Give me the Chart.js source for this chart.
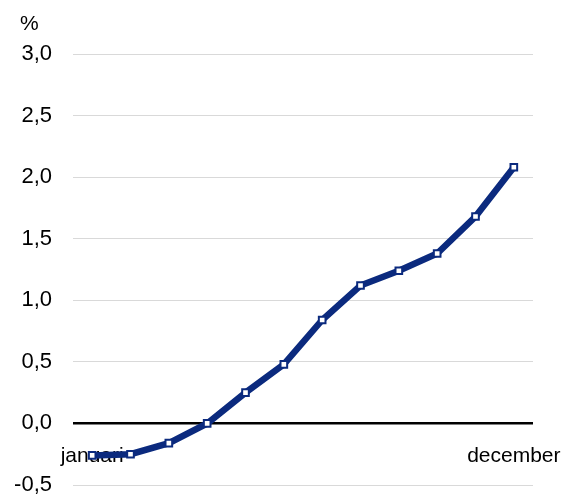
<!DOCTYPE html>
<html>
<head>
<meta charset="utf-8">
<script src="https://cdn.jsdelivr.net/npm/chart.js@4/dist/chart.umd.min.js"></script>
<style>
  html, body { margin: 0; padding: 0; background: #ffffff; }
  #wrap { width: 570px; height: 494px; position: relative; }
</style>
</head>
<body>
<div id="wrap"><canvas id="chart"></canvas></div>
<script>
// Monthly values, per cent
const months = ['januari', 'februari', 'maart', 'april', 'mei', 'juni',
                'juli', 'augustus', 'september', 'oktober', 'november', 'december'];
const values = [-0.26, -0.25, -0.16, 0.00, 0.25, 0.48, 0.84, 1.12, 1.24, 1.38, 1.68, 2.08];
const shownLabels = ['januari', 'december'];
const unitLabel = '%';

const navy = '#0b2a7e';
const fontFamily = '"Liberation Sans", Arial, sans-serif';

// Unit text above the value axis
const unitPlugin = {
  id: 'unitLabel',
  afterDraw(chart) {
    const ctx = chart.ctx;
    ctx.save();
    ctx.fillStyle = '#000';
    ctx.font = '21px ' + fontFamily;
    ctx.textAlign = 'left';
    ctx.textBaseline = 'alphabetic';
    ctx.fillText(unitLabel, 20, 30);
    ctx.restore();
  }
};

new Chart(document.getElementById('chart'), {
  type: 'line',
  data: {
    labels: months,
    datasets: [{
      data: values,
      borderColor: navy,
      borderWidth: 6.5,
      pointStyle: 'rect',
      pointRadius: 4.7,
      pointHoverRadius: 4.7,
      pointBackgroundColor: '#ffffff',
      pointBorderColor: navy,
      pointBorderWidth: 2,
      tension: 0,
      fill: false
    }]
  },
  options: {
    responsive: true,
    maintainAspectRatio: false,
    animation: false,
    layout: { padding: { top: 54, right: 37, bottom: 9, left: 0 } },
    plugins: {
      legend: { display: false },
      tooltip: { enabled: false },
      title: { display: false }
    },
    scales: {
      x: {
        type: 'category',
        offset: true,
        position: { y: 0 },
        z: 1,
        grid: { display: false, drawTicks: false },
        border: { display: false },
        afterFit(scale) {
          // the category labels sit on the zero line and take no room of their own
          scale.height = 0;
          scale.paddingLeft = 0;
          scale.paddingRight = 0;
          scale.paddingTop = 0;
          scale.paddingBottom = 0;
        },
        ticks: {
          autoSkip: false,
          maxRotation: 0,
          padding: 20,
          color: '#000',
          font: { family: fontFamily, size: 21 },
          callback(value, index) {
            const lab = this.getLabelForValue(value);
            return shownLabels.includes(lab) ? lab : '';
          }
        }
      },
      y: {
        min: -0.5,
        max: 3.0,
        border: { display: false },
        afterFit(scale) {
          scale.width = 73;
          scale.paddingTop = 0;
          scale.paddingBottom = 0;
        },
        grid: {
          drawTicks: false,
          color: (c) => (c.tick && c.tick.value === 0 ? '#000000' : '#d9d9d9'),
          lineWidth: (c) => (c.tick && c.tick.value === 0 ? 2.5 : 1)
        },
        ticks: {
          stepSize: 0.5,
          padding: 21,
          color: '#000',
          font: { family: fontFamily, size: 22 },
          callback: (v) => v.toFixed(1).replace('.', ',')
        }
      }
    }
  },
  plugins: [unitPlugin]
});
</script>
</body>
</html>
